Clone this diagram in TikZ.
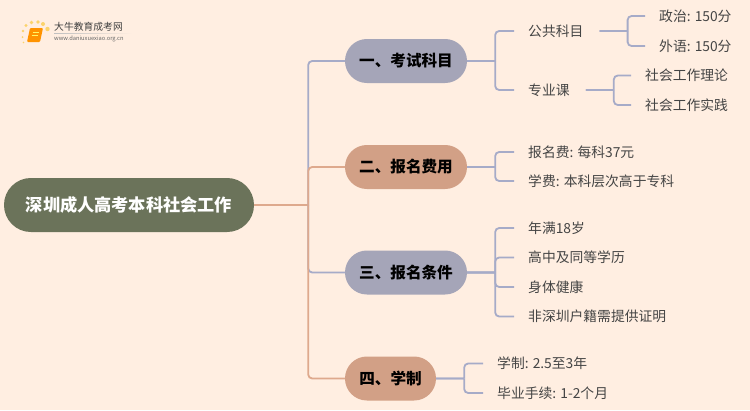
\documentclass[tikz,border=0pt]{standalone}
\usepackage{fontspec}
\setmainfont{Noto Sans CJK SC}
\definecolor{paper}{HTML}{FFEEE1}
\definecolor{rootgreen}{HTML}{6B735A}
\definecolor{topicblue}{HTML}{A5A5B8}
\definecolor{topicbrown}{HTML}{D2A086}
\definecolor{linkblue}{HTML}{A6ABC8}
\definecolor{linkbrown}{HTML}{DEA98D}
\definecolor{leafgray}{HTML}{444444}
\definecolor{sundot}{HTML}{FBD36B}
\tikzset{
  pill/.style={rounded corners=21.9pt,minimum height=44pt,inner sep=0pt,align=center,font=\bfseries\fontsize{15.6}{18}\selectfont,text=black},
  leaf/.style={anchor=west,inner xsep=15pt,inner ysep=0pt,minimum height=20pt,text=leafgray,font=\fontsize{13.8}{16}\selectfont,execute at begin node={\kern-1pt},execute at end node={\kern1pt}},
  bluelink/.style={color=linkblue,line width=1.8pt,rounded corners=4pt},
  brownlink/.style={color=linkbrown,line width=1.8pt,rounded corners=4pt}
}

\begin{document}
\begin{tikzpicture}[x=1pt,y=-1pt]
\useasboundingbox (0,0) rectangle (750,410);
\fill[paper] (0,0) rectangle (750,410);
% logo
\foreach \x/\y/\r in {23/31/1.3,26/25.5/1.7,31.5/22.5/1.9,38/22/1.9,43/24/2,47.5/29/2.2,22.5/37/1,23.5/42.5/0.9}
  \fill[sundot] (\x,\y) circle[radius=\r];
\fill[orange!85!yellow,rounded corners=1pt] (30,28) -- (43,28) -- (40,42) -- (27,42) -- cycle;
\draw[yellow!60,line width=0.8pt] (32.5,32) -- (38.5,32) (31.5,35) -- (37.5,35);
\node[anchor=west,inner sep=0pt,text=black!75] (logotext) at (54,27) {\fontsize{9.8}{11}\selectfont 大牛教育成考网};
\shade[left color=black!25,right color=paper] (54,33.2) rectangle (132,33.9);
\node[anchor=west,inner sep=0pt,text=black!60] (logourl) at (54,39) {\fontsize{5.75}{7}\selectfont www.daniuxuexiao.org.cn};
% main nodes
\node[pill,fill=rootgreen,text=white,minimum width=250pt,minimum height=54pt,rounded corners=26.9pt,font=\bfseries\fontsize{17.2}{20}\selectfont] (root) at (129,205) {深圳成人高考本科社会工作};
\node[pill,fill=topicblue,minimum width=122pt] (kaoshi) at (406,61) {一、考试科目};
\node[pill,fill=topicbrown,minimum width=122pt] (feiyong) at (406,167) {二、报名费用};
\node[pill,fill=topicblue,minimum width=122pt] (tiaojian) at (406,272.5) {三、报名条件};
\node[pill,fill=topicbrown,minimum width=91pt] (xuezhi) at (390.5,378.5) {四、学制};
% leaves
\node[leaf] (gonggong) at (514,31) {公共科目};
\node[leaf] (zhuanye) at (514,90) {专业课};
\node[leaf] (zhengzhi) at (645,16) {政治: 150分};
\node[leaf] (waiyu) at (645,46) {外语: 150分};
\node[leaf] (lilun) at (631,75.5) {社会工作理论};
\node[leaf] (shijian) at (631,105) {社会工作实践};
\node[leaf] (baoming) at (514,152) {报名费: 每科37元};
\node[leaf] (xuefei) at (514,181) {学费: 本科层次高于专科};
\node[leaf] (nian) at (514,228) {年满18岁};
\node[leaf] (gaozhong) at (514,257.5) {高中及同等学历};
\node[leaf] (shenti) at (514,287) {身体健康};
\node[leaf] (huji) at (514,316.5) {非深圳户籍需提供证明};
\node[leaf] (xz) at (483,363.5) {学制: 2.5至3年};
\node[leaf] (biye) at (483,393) {毕业手续: 1-2个月};
% connectors
\draw[linkbrown,line width=1.8pt] (root.east) -- ++(54,0) coordinate (trunk);
\draw[bluelink] (trunk) |- (kaoshi.west);
\draw[bluelink] (trunk) |- (tiaojian.west);
\draw[brownlink] (trunk) |- (feiyong.west);
\draw[brownlink] (trunk) |- (xuezhi.west);
\foreach \a/\b in {kaoshi/gonggong,kaoshi/zhuanye,feiyong/baoming,feiyong/xuefei,tiaojian/nian,tiaojian/gaozhong,tiaojian/shenti,tiaojian/huji,xuezhi/xz,xuezhi/biye,gonggong/zhengzhi,gonggong/waiyu,zhuanye/lilun,zhuanye/shijian}
  \draw[bluelink] (\a.east) -- ++(28,0) coordinate (fork) (fork) |- (\b.west);
\end{tikzpicture}
\end{document}
